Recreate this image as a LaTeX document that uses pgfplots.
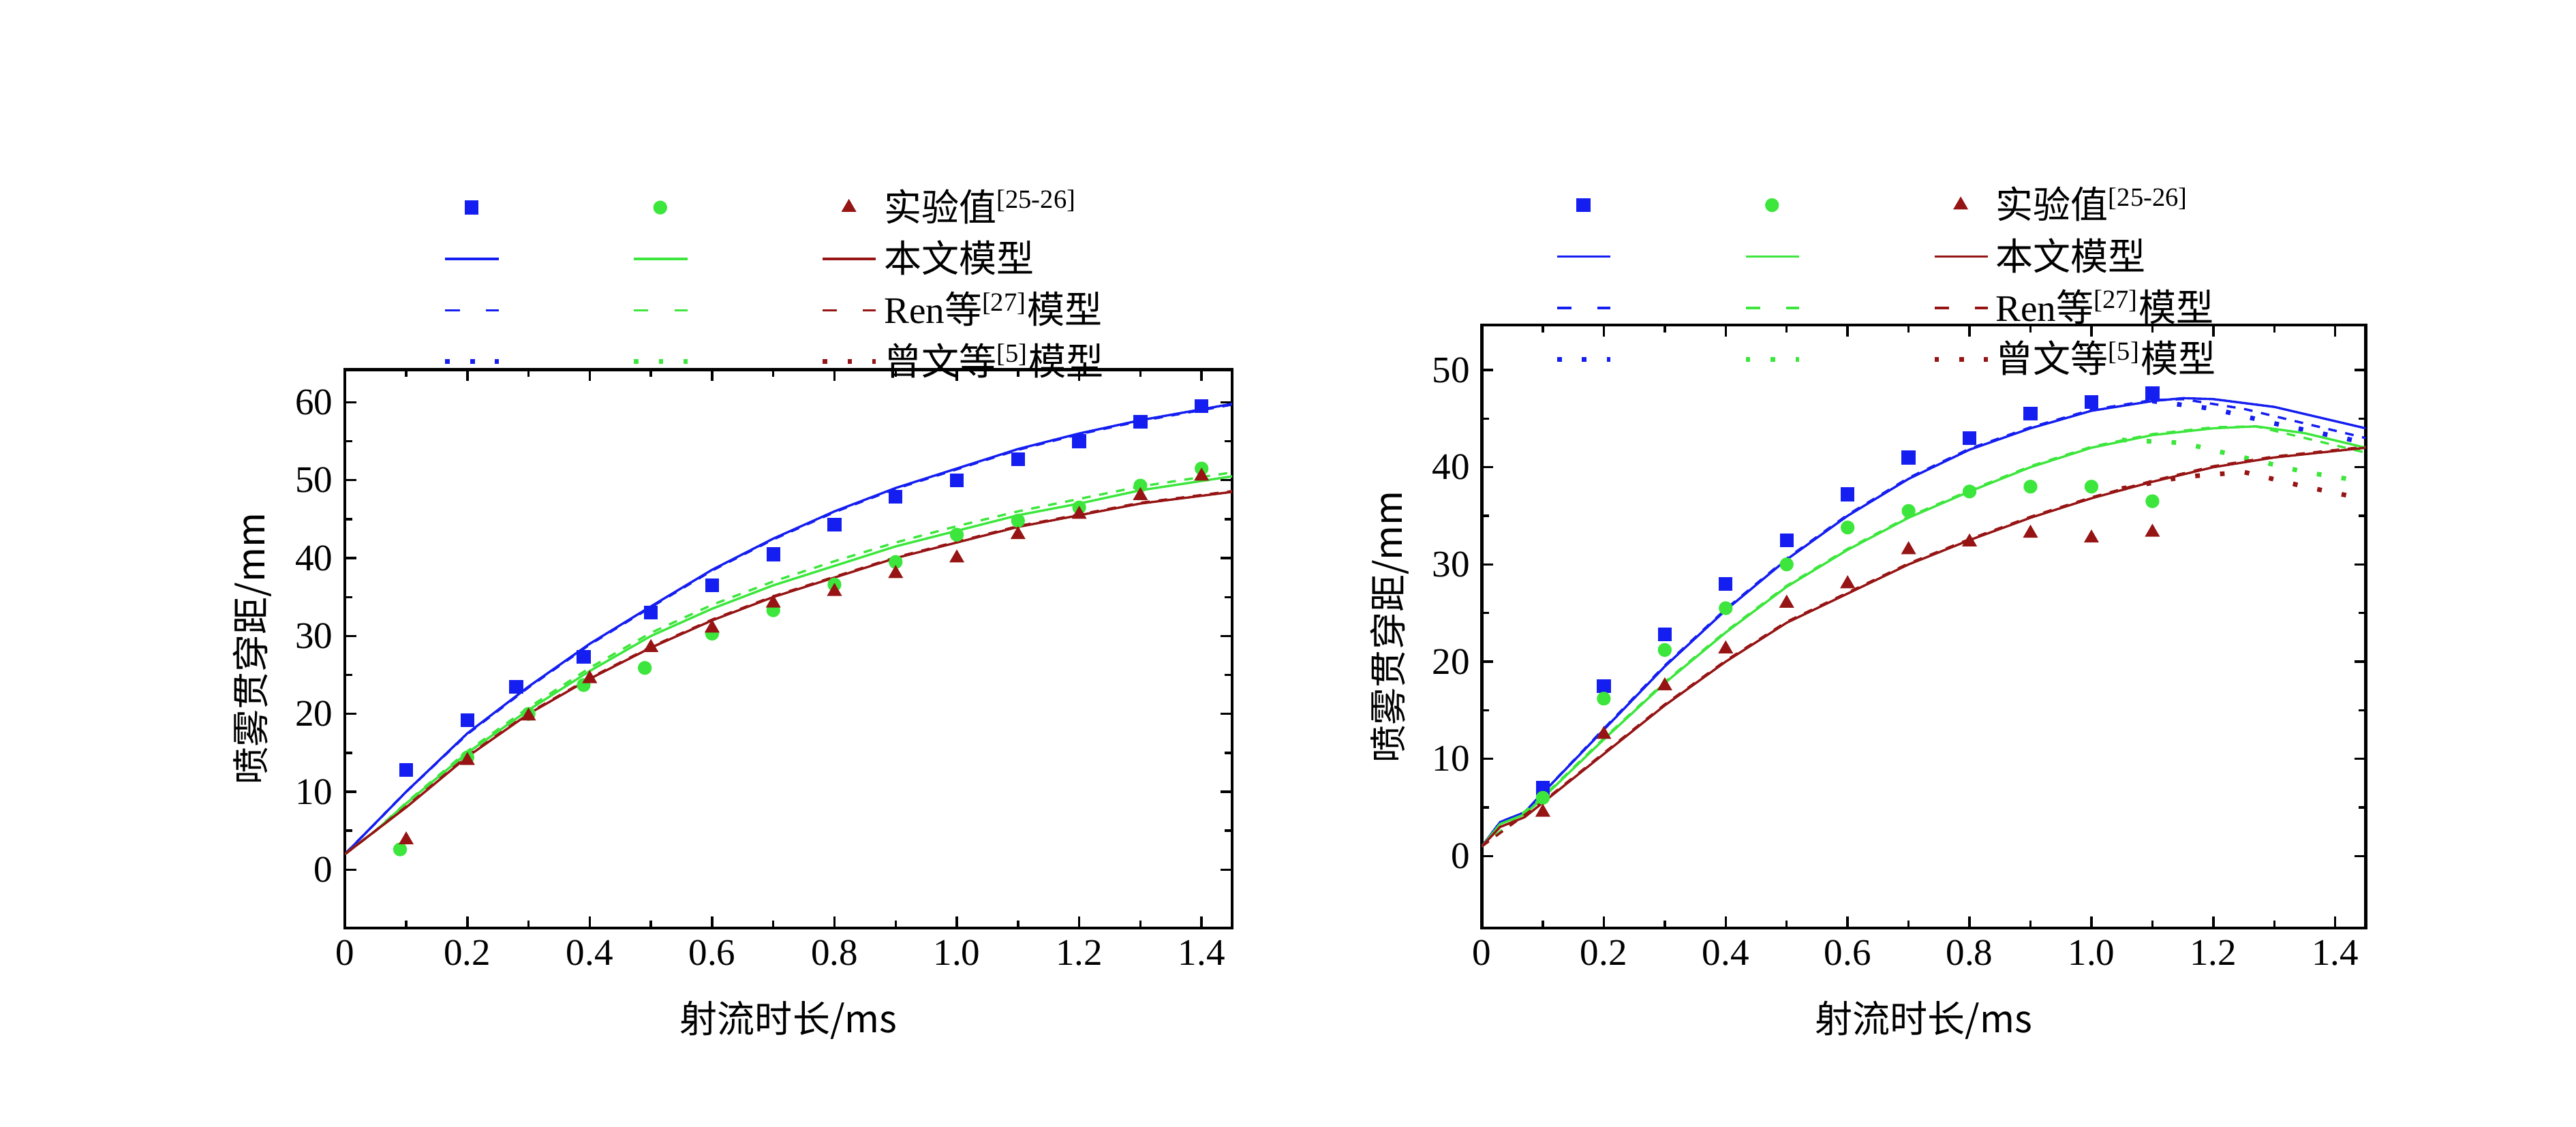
\documentclass[border=0pt,12pt]{standalone}
\usepackage{fontspec}
\setmainfont{Liberation Serif}
\newfontfamily\cjk{Noto Sans CJK SC}
\usepackage{pgfplots}
\pgfplotsset{compat=1.18}
\definecolor{cb}{RGB}{20,30,240}
\definecolor{cg}{RGB}{60,230,60}
\definecolor{cr}{RGB}{150,20,20}
\pgfplotsset{
  myax/.style={scale only axis, width=10.8cm,
    font=\fontsize{13}{15}\selectfont,
    /pgf/number format/assume math mode=true,
    xmin=0, xmax=1.45, xtick={0,0.2,0.4,0.6,0.8,1.0,1.2,1.4},
    xticklabels={0,0.2,0.4,0.6,0.8,1.0,1.2,1.4},
    minor x tick num=1, minor y tick num=1,
    tick align=inside, tick pos=both,
    major tick length=4pt, minor tick length=2.5pt,
    axis line style={line width=1pt}, tick style={line width=0.8pt,black},
    xlabel={\cjk 射流时长/ms}, ylabel={\cjk 喷雾贯穿距/mm},
    xlabel style={yshift=-4pt},
    legend cell align=left,
    legend style={draw=none, fill=none, font=\fontsize{13}{15}\selectfont, legend columns=3,
      /tikz/every even column/.append style={column sep=1.45cm}, row sep=1pt, anchor=north west},
    legend image code/.code={\draw[##1] (0cm,0cm) -- (0.65cm,0cm);},
  },
  mleg/.style={legend image code/.code={\draw[##1] plot coordinates {(0.32cm,0cm)};}},
  ms/.style={only marks, mark size=2.6pt},
}
\begin{document}
\begin{tikzpicture}
\path[use as bounding box] (-4.2,-2.42) rectangle (27.16,11.3);
% ---------------- (a)
\begin{axis}[myax, height=6.8cm, at={(0,0)}, anchor=south west,
  ymin=-7.5, ymax=64.2, ytick={0,10,20,30,40,50,60},
  legend style={at={(0.10,1.345)}}]
\addlegendimage{ms,cb,mark=square*,mark size=2.2pt,mleg}\addlegendentry{}
\addlegendimage{ms,cg,mark=*,mark size=2.2pt,mleg}\addlegendentry{}
\addlegendimage{ms,cr,mark=triangle*,mark size=2.6pt,mleg}\addlegendentry{{\cjk 实验值}\textsuperscript{[25-26]}}
\addlegendimage{cb,thick}\addlegendentry{}
\addlegendimage{cg,thick}\addlegendentry{}
\addlegendimage{cr,thick}\addlegendentry{\cjk 本文模型}
\addlegendimage{cb,thick,dash pattern=on 5pt off 9pt}\addlegendentry{}
\addlegendimage{cg,thick,dash pattern=on 5pt off 9pt}\addlegendentry{}
\addlegendimage{cr,thick,dash pattern=on 5pt off 9pt}\addlegendentry{Ren{\cjk 等}\textsuperscript{[27]}{\cjk 模型}}
\addlegendimage{cb,line width=1.6pt,dash pattern=on 1.6pt off 7pt}\addlegendentry{}
\addlegendimage{cg,line width=1.6pt,dash pattern=on 1.6pt off 7pt}\addlegendentry{}
\addlegendimage{cr,line width=1.6pt,dash pattern=on 1.6pt off 7pt}\addlegendentry{{\cjk 曾文等}\textsuperscript{[5]}{\cjk 模型}}
% models
\addplot[cb,thick,forget plot] coordinates {(0,2)(0.05,6)(0.1,10)(0.2,17.5)(0.3,23.5)(0.4,29)(0.5,33.8)(0.6,38.5)(0.7,42.5)(0.8,46)(0.9,49)(1.0,51.5)(1.1,54)(1.2,56)(1.3,57.7)(1.45,59.8)};
\addplot[cb,thick,dashed,forget plot] coordinates {(0,2)(0.05,6)(0.1,10)(0.2,17.4)(0.3,23.4)(0.4,28.9)(0.5,33.7)(0.6,38.4)(0.7,42.4)(0.8,45.9)(0.9,48.9)(1.0,51.4)(1.1,53.9)(1.2,55.9)(1.3,57.6)(1.45,59.7)};
\addplot[cg,thick,forget plot] coordinates {(0,2)(0.05,5)(0.1,8.5)(0.2,15)(0.3,20.5)(0.4,25.5)(0.5,30)(0.6,33.5)(0.7,36.5)(0.8,39)(0.9,41.5)(1.0,43.5)(1.1,45.5)(1.2,47)(1.3,48.7)(1.45,50.5)};
\addplot[cg,thick,dashed,forget plot] coordinates {(0,2)(0.05,5)(0.1,8.6)(0.2,15.2)(0.3,20.8)(0.4,25.9)(0.5,30.4)(0.6,34)(0.7,37)(0.8,39.6)(0.9,42)(1.0,44.1)(1.1,46)(1.2,47.6)(1.3,49.2)(1.45,51)};
\addplot[cr,thick,forget plot] coordinates {(0,2)(0.05,5)(0.1,8)(0.2,14.5)(0.3,20)(0.4,24.5)(0.5,28.5)(0.6,32)(0.7,35)(0.8,37.5)(0.9,40)(1.0,42)(1.1,44)(1.2,45.5)(1.3,47)(1.45,48.5)};
\addplot[cr,thick,dashed,forget plot] coordinates {(0,2)(0.05,5)(0.1,8.1)(0.2,14.6)(0.3,20.1)(0.4,24.6)(0.5,28.6)(0.6,32.1)(0.7,35.1)(0.8,37.6)(0.9,40.1)(1.0,42.1)(1.1,44.1)(1.2,45.6)(1.3,47.1)(1.45,48.6)};
% experiments
\addplot[ms,cb,mark=square*,mark size=2.2pt,forget plot] coordinates {(0.1,12.8)(0.2,19.2)(0.28,23.5)(0.39,27.3)(0.5,33)(0.6,36.5)(0.7,40.5)(0.8,44.3)(0.9,47.9)(1.0,50)(1.1,52.7)(1.2,55)(1.3,57.5)(1.4,59.5)};
\addplot[ms,cg,mark=*,mark size=2.2pt,forget plot] coordinates {(0.09,2.6)(0.2,14.4)(0.3,20)(0.39,23.7)(0.49,25.9)(0.6,30.3)(0.7,33.3)(0.8,36.6)(0.9,39.5)(1.0,43)(1.1,44.8)(1.2,46.5)(1.3,49.3)(1.4,51.5)};
\addplot[ms,cr,mark=triangle*,forget plot] coordinates {(0.1,3.8)(0.2,14)(0.3,19.7)(0.4,24.5)(0.5,28.5)(0.6,31)(0.7,34.2)(0.8,35.7)(0.9,38)(1.0,40)(1.1,43)(1.2,45.6)(1.3,48)(1.4,50.5)};
\node[font=\fontsize{13}{15}\selectfont] at (axis description cs:0.167,1.43) {1.8 MPa};
\node[font=\fontsize{13}{15}\selectfont] at (axis description cs:0.38,1.43) {2.8 MPa};
\node[font=\fontsize{13}{15}\selectfont] at (axis description cs:0.59,1.43) {3.2 MPa};
\node[font=\fontsize{13}{15}\selectfont\cjk] at (axis description cs:0.2,1.53) {环境压力};
\node[font=\fontsize{13}{15}\selectfont] at (axis description cs:0.5,-0.29) {(a) \textit{T}=300 K, \textit{d}\textsubscript{j}=0.15 mm, \textit{p}\textsubscript{j}=70 MPa};
\end{axis}
% ---------------- (b)
\begin{axis}[myax, height=7.34cm, width=10.76cm, at={(13.84cm,0)}, anchor=south west,
  ymin=-7.4, ymax=54.6, ytick={0,10,20,30,40,50},
  legend style={at={(0.072,1.25)}}]
\addlegendimage{ms,cb,mark=square*,mark size=2.2pt,mleg}\addlegendentry{}
\addlegendimage{ms,cg,mark=*,mark size=2.2pt,mleg}\addlegendentry{}
\addlegendimage{ms,cr,mark=triangle*,mark size=2.6pt,mleg}\addlegendentry{{\cjk 实验值}\textsuperscript{[25-26]}}
\addlegendimage{cb,thick}\addlegendentry{}
\addlegendimage{cg,thick}\addlegendentry{}
\addlegendimage{cr,thick}\addlegendentry{\cjk 本文模型}
\addlegendimage{cb,thick,dash pattern=on 5pt off 9pt}\addlegendentry{}
\addlegendimage{cg,thick,dash pattern=on 5pt off 9pt}\addlegendentry{}
\addlegendimage{cr,thick,dash pattern=on 5pt off 9pt}\addlegendentry{Ren{\cjk 等}\textsuperscript{[27]}{\cjk 模型}}
\addlegendimage{cb,line width=1.6pt,dash pattern=on 1.6pt off 7pt}\addlegendentry{}
\addlegendimage{cg,line width=1.6pt,dash pattern=on 1.6pt off 7pt}\addlegendentry{}
\addlegendimage{cr,line width=1.6pt,dash pattern=on 1.6pt off 7pt}\addlegendentry{{\cjk 曾文等}\textsuperscript{[5]}{\cjk 模型}}
\addplot[cb,thick,forget plot] coordinates {(0,1)(0.03,3.5)(0.07,4.5)(0.1,6.5)(0.2,13)(0.3,19.5)(0.4,25.3)(0.5,30.5)(0.6,35)(0.7,38.8)(0.8,41.8)(0.9,44)(1.0,45.8)(1.1,46.8)(1.15,47.1)(1.2,47)(1.3,46.2)(1.45,44)};
\addplot[cb,thick,dashed,forget plot] coordinates {(0,1)(0.03,3.5)(0.07,4.5)(0.1,6.5)(0.2,13.1)(0.3,19.6)(0.4,25.4)(0.5,30.6)(0.6,35.1)(0.7,38.9)(0.8,41.9)(0.9,44.1)(1.0,45.9)(1.1,46.9)(1.15,47)(1.25,46)(1.35,44.5)(1.45,43)};
\addplot[cb,line width=1.6pt,dash pattern=on 1.6pt off 7pt,forget plot] coordinates {(1.1,46.8)(1.2,46)(1.3,44.5)(1.45,42.5)};
\addplot[cg,thick,forget plot] coordinates {(0,1)(0.03,3.3)(0.07,4.3)(0.1,6)(0.2,12)(0.3,17.8)(0.4,23)(0.5,27.7)(0.6,31.5)(0.7,34.8)(0.8,37.5)(0.9,40)(1.0,42)(1.1,43.3)(1.2,44)(1.27,44.2)(1.35,43.5)(1.45,42)};
\addplot[cg,thick,dashed,forget plot] coordinates {(0,1)(0.1,6.1)(0.2,12.1)(0.3,17.9)(0.4,23.1)(0.5,27.8)(0.6,31.6)(0.7,34.9)(0.8,37.6)(0.9,40.1)(1.0,42.1)(1.1,43.4)(1.2,44.1)(1.27,44.2)(1.35,43)(1.45,41.5)};
\addplot[cg,line width=1.6pt,dash pattern=on 1.6pt off 7pt,forget plot] coordinates {(1.05,42.8)(1.15,42.5)(1.25,41)(1.35,39.5)(1.45,38.5)};
\addplot[cr,thick,forget plot] coordinates {(0,1)(0.03,3)(0.07,4)(0.1,5.5)(0.2,10.5)(0.3,15.5)(0.4,20)(0.5,24)(0.6,27)(0.7,30)(0.8,32.5)(0.9,34.8)(1.0,36.8)(1.1,38.5)(1.2,40)(1.3,41)(1.45,42)};
\addplot[cr,thick,dashed,forget plot] coordinates {(0,1)(0.1,5.6)(0.2,10.6)(0.3,15.6)(0.4,20.1)(0.5,24.1)(0.6,27.1)(0.7,30.1)(0.8,32.6)(0.9,34.9)(1.0,36.9)(1.1,38.6)(1.2,40.1)(1.3,41.1)(1.45,42.1)};
\addplot[cr,line width=1.6pt,dash pattern=on 1.6pt off 7pt,forget plot] coordinates {(1.05,37.8)(1.15,39)(1.25,39.5)(1.35,38)(1.45,36.7)};
\addplot[ms,cb,mark=square*,mark size=2.2pt,forget plot] coordinates {(0.1,7)(0.2,17.5)(0.3,22.8)(0.4,28)(0.5,32.5)(0.6,37.2)(0.7,41)(0.8,43)(0.9,45.5)(1.0,46.7)(1.1,47.6)};
\addplot[ms,cg,mark=*,mark size=2.2pt,forget plot] coordinates {(0.1,6)(0.2,16.2)(0.3,21.2)(0.4,25.5)(0.5,30)(0.6,33.8)(0.7,35.5)(0.8,37.5)(0.9,38)(1.0,38)(1.1,36.5)};
\addplot[ms,cr,mark=triangle*,forget plot] coordinates {(0.1,4.5)(0.2,12.5)(0.3,17.5)(0.4,21.3)(0.5,26)(0.6,28)(0.7,31.5)(0.8,32.3)(0.9,33.2)(1.0,32.7)(1.1,33.3)};
\node[font=\fontsize{13}{15}\selectfont] at (axis description cs:0.164,1.327) {1.5 MPa};
\node[font=\fontsize{13}{15}\selectfont] at (axis description cs:0.359,1.327) {2 MPa};
\node[font=\fontsize{13}{15}\selectfont] at (axis description cs:0.537,1.327) {3 MPa};
\node[font=\fontsize{13}{15}\selectfont\cjk] at (axis description cs:0.182,1.417) {环境压力};
\node[font=\fontsize{13}{15}\selectfont] at (axis description cs:0.5,-0.267) {(b) \textit{T}=600 K, \textit{d}\textsubscript{j}=0.18 mm, \textit{p}\textsubscript{j}=40 MPa};
\end{axis}
\end{tikzpicture}
\end{document}
